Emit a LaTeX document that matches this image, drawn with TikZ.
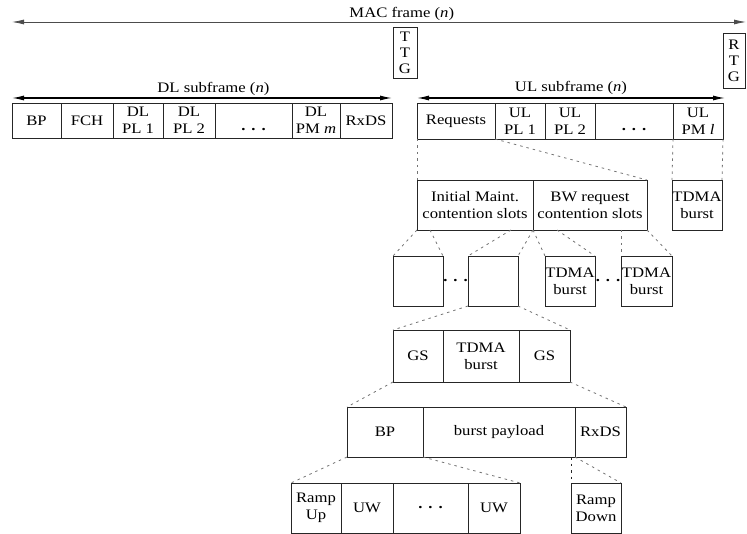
\documentclass[tikz,border=0pt]{standalone}
\usepackage{fontspec}
\setmainfont{Liberation Serif}[FakeStretch=1.15]
\usetikzlibrary{arrows.meta}
\newcommand\gapdots{\textbf{.}\hspace{6pt}\textbf{.}\hspace{6pt}\textbf{.}}
\begin{document}
\begin{tikzpicture}[x=1pt,y=-1pt,
  font=\fontsize{14.5}{17}\selectfont,
  cell/.style={draw=black!85, line width=0.8pt, inner sep=0pt, outer sep=0pt,
    anchor=north west, align=center},
  link/.style={draw=black!55, line width=0.8pt, dash pattern=on 2.5pt off 4pt},
  macspan/.style={draw=black!70, line width=0.8pt,
    {Latex[length=12pt,width=5pt]}-{Latex[length=12pt,width=5pt]}},
  subspan/.style={draw=black, line width=1.2pt,
    {Latex[length=12pt,width=5pt]}-{Latex[length=12pt,width=5pt]}},
  spanlabel/.style={anchor=base, inner sep=0pt}]
\path[use as bounding box] (0,0) rectangle (747,534);

% MAC frame and the two gaps
\coordinate (macL) at (12,22);
\coordinate (macR) at (746,22);
\draw[macspan] (macL) -- node[spanlabel, pos=0.531, yshift=4pt] (maclbl) {MAC frame (\textit{n})} (macR);
\node[cell, minimum width=24pt, minimum height=51pt, font=\fontsize{14.5}{16}\selectfont] (ttg) at (393,27) {T\\T\\G};
\node[cell, minimum width=22pt, minimum height=55pt, font=\fontsize{14.5}{16}\selectfont] (rtg) at (723,33) {R\\T\\G};

% DL subframe
\node[cell, minimum width=49pt, minimum height=35pt] (dbp)   at (12,103)  {BP};
\node[cell, minimum width=52pt, minimum height=35pt] (fch)   at (61,103)  {FCH};
\node[cell, minimum width=50pt, minimum height=35pt] (dpl1)  at (113,103) {DL\\PL 1};
\node[cell, minimum width=52pt, minimum height=35pt] (dpl2)  at (163,103) {DL\\PL 2};
\node[cell, minimum width=77pt, minimum height=35pt] (ddots) at (215,103) {\raisebox{-10pt}[0pt][0pt]{\gapdots}};
\node[cell, minimum width=48pt, minimum height=35pt] (dpm)   at (292,103) {DL\\PM \textit{m}};
\node[cell, minimum width=52pt, minimum height=35pt] (drx)   at (340,103) {RxDS};
\draw[subspan] ([yshift=5pt]dbp.north west) -- node[spanlabel, pos=0.53, yshift=5pt] (dllbl) {DL subframe (\textit{n})} ([yshift=5pt]drx.north east);

% UL subframe
\node[cell, minimum width=78pt, minimum height=36pt] (req)   at (417,103) {Requests};
\node[cell, minimum width=50pt, minimum height=36pt] (upl1)  at (495,103) {UL\\PL 1};
\node[cell, minimum width=50pt, minimum height=36pt] (upl2)  at (545,103) {UL\\PL 2};
\node[cell, minimum width=78pt, minimum height=36pt] (udots) at (595,103) {\raisebox{-10pt}[0pt][0pt]{\gapdots}};
\node[cell, minimum width=50pt, minimum height=36pt] (upm)   at (673,103) {UL\\PM \textit{l}};
\draw[subspan] ([yshift=5pt]req.north west) -- node[spanlabel, midway, yshift=6pt] (ullbl) {UL subframe (\textit{n})} ([xshift=2pt,yshift=5pt]upm.north east);

% contention slots and TDMA burst
\node[cell, minimum width=116pt, minimum height=50pt] (im)  at (417,180) {Initial Maint.\\contention slots};
\node[cell, minimum width=114pt, minimum height=50pt] (bw)  at (533,180) {BW request\\contention slots};
\node[cell, minimum width=50pt,  minimum height=50pt] (tb0) at (672,180) {TDMA\\burst};

% individual slots
\node[cell, minimum width=50pt, minimum height=50pt] (e1)  at (393,256) {};
\node[cell, minimum width=50pt, minimum height=50pt] (e2)  at (468,256) {};
\node[cell, minimum width=50pt, minimum height=50pt] (tb1) at (545,256) {TDMA\\burst};
\node[cell, minimum width=51pt, minimum height=50pt] (tb2) at (621,256) {TDMA\\burst};
\node[inner sep=0pt] (sd1) at (455.5,281) {\gapdots};
\node[inner sep=0pt] (sd2) at (608,281) {\gapdots};

% guarded burst
\node[cell, minimum width=50pt, minimum height=52pt] (gs1) at (393,330) {GS};
\node[cell, minimum width=76pt, minimum height=52pt] (gtb) at (443,330) {TDMA\\burst};
\node[cell, minimum width=51pt, minimum height=52pt] (gs2) at (519,330) {GS};

% burst structure
\node[cell, minimum width=76pt,  minimum height=50pt] (bbp)  at (347,407) {BP};
\node[cell, minimum width=152pt, minimum height=50pt] (bpay) at (423,407) {burst payload};
\node[cell, minimum width=51pt,  minimum height=50pt] (brx)  at (575,407) {RxDS};

% preamble and ramp down
\node[cell, minimum width=50pt, minimum height=50pt] (rup) at (291,483) {Ramp\\Up};
\node[cell, minimum width=52pt, minimum height=50pt] (uw1) at (341,483) {UW};
\node[cell, minimum width=75pt, minimum height=50pt] (udt) at (393,483) {\gapdots};
\node[cell, minimum width=52pt, minimum height=50pt] (uw2) at (468,483) {UW};
\node[cell, minimum width=50pt, minimum height=50pt] (rdn) at (571,483) {Ramp\\Down};

% expansion lines
\coordinate (k1) at (430,230);
\coordinate (k2) at (511,230);
\coordinate (k3) at (557,230);
\coordinate (k4) at (621,230);
\draw[link] (req.south west) -- (im.north west);
\draw[link] (req.south east) -- (bw.north east);
\draw[link] (upm.south west) -- (tb0.north west);
\draw[link] (upm.south east) -- (tb0.north east);
\draw[link] (im.south west) -- (e1.north west);
\draw[link] (k1) -- (e1.north east);
\draw[link] (k2) -- (e2.north west);
\draw[link] (im.south east) -- (e2.north east);
\draw[link] (bw.south west) -- (tb1.north west);
\draw[link] (k3) -- (tb1.north east);
\draw[link] (k4) -- (tb2.north west);
\draw[link] (bw.south east) -- (tb2.north east);
\draw[link] (e2.south west) -- (gs1.north west);
\draw[link] (e2.south east) -- (gs2.north east);
\draw[link] (gs1.south west) -- (bbp.north west);
\draw[link] (gs2.south east) -- (brx.north east);
\draw[link] (bbp.south west) -- (rup.north west);
\draw[link] (bbp.south east) -- (uw2.north east);
\draw[link, draw=black!85] (rdn.north west |- bpay.south) -- (rdn.north west);
\draw[link] (brx.south west) -- (rdn.north east);
\end{tikzpicture}
\end{document}
